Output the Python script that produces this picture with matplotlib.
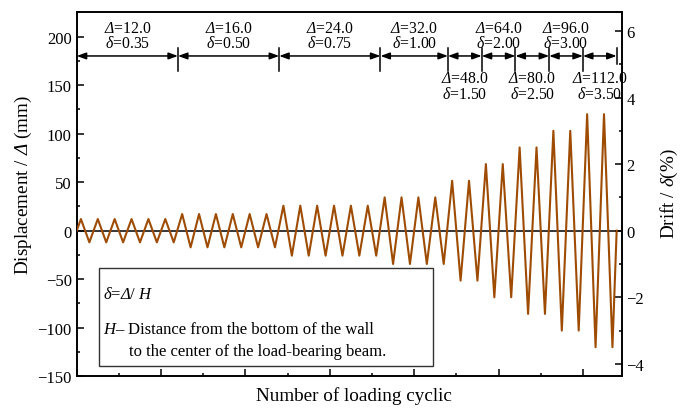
import numpy as np
import matplotlib
matplotlib.use('Agg')
import matplotlib.pyplot as plt
from matplotlib.patches import Rectangle
from matplotlib.ticker import MultipleLocator, NullFormatter

plt.rcParams['font.family'] = 'Liberation Serif'
plt.rcParams['font.size'] = 12
plt.rcParams['mathtext.fontset'] = 'custom'
plt.rcParams['mathtext.rm'] = 'Liberation Serif'
plt.rcParams['mathtext.it'] = 'Liberation Serif:italic'
plt.rcParams['mathtext.sf'] = 'Liberation Serif:italic'
plt.rcParams['mathtext.bf'] = 'Liberation Serif:bold'

# loading protocol
disp_levels = [12.0, 16.0, 24.0, 32.0, 48.0, 64.0, 80.0, 96.0, 112.0]   # mm
drift_levels = [0.35, 0.50, 0.75, 1.00, 1.50, 2.00, 2.50, 3.00, 3.50]   # %
n_cycles = [6, 6, 6, 4, 2, 2, 2, 2, 2]
label_above = [True, True, True, True, False, True, False, True, False]

mm_per_pct = 34.3

# build the zigzag history: peak at n+0.25, trough at n+0.75
xs, ys = [0.0], [0.0]
c = 0
for amp, n in zip(drift_levels, n_cycles):
    for _ in range(n):
        xs += [c + 0.25, c + 0.75]
        ys += [amp, -amp]
        c += 1
xs.append(c)
ys.append(0.0)

fig, ax = plt.subplots(figsize=(6.8, 4.1), dpi=100)
fig.subplots_adjust(left=0.1128, right=0.9143, top=0.9676, bottom=0.0798)
ax2 = ax.twinx()

ax.set_xlim(0, 32.3)
ax.set_ylim(-150, 225)
ax2.set_ylim(-150 / mm_per_pct, 225 / mm_per_pct)

ax.axhline(0, color='k', lw=1.1, zorder=1)
ax2.plot(xs, ys, color='#9E4C04', lw=1.5, zorder=3)

# ticks
ax.xaxis.set_major_locator(MultipleLocator(5))
ax.xaxis.set_minor_locator(MultipleLocator(2.5))
ax.xaxis.set_major_formatter(NullFormatter())
ax.yaxis.set_major_locator(MultipleLocator(50))
ax.yaxis.set_minor_locator(MultipleLocator(25))
ax2.yaxis.set_major_locator(MultipleLocator(2))
ax2.yaxis.set_minor_locator(MultipleLocator(1))
for a in (ax, ax2):
    a.tick_params(which='major', direction='in', length=5, width=1.1)
    a.tick_params(which='minor', direction='in', length=2.5, width=1.1)
    for s in a.spines.values():
        s.set_linewidth(1.2)
ax.tick_params(axis='x', which='both', top=False)

ax.set_ylabel(r'Displacement / $\mathsf{\Delta}$ (mm)', fontsize=13.8)
ax2.set_ylabel(r'Drift / $\delta$(%)', fontsize=13.8)
ax.set_xlabel('Number of loading cyclic', fontsize=13.8)
ax.yaxis.set_label_coords(-0.079, 0.528)
ax2.yaxis.set_label_coords(1.068, 0.5036)
ax.xaxis.set_label_coords(0.509, -0.026)

# stage annotations
bounds = np.concatenate([[0], np.cumsum(n_cycles)])
y_arrow = 180
for i, (d, p, up) in enumerate(zip(disp_levels, drift_levels, label_above)):
    x0, x1 = bounds[i], bounds[i + 1]
    ax.annotate('', xy=(x1, y_arrow), xytext=(x0, y_arrow),
                arrowprops=dict(arrowstyle='<|-|>,head_length=0.55,head_width=0.2',
                                color='k', lw=1.1, shrinkA=0, shrinkB=0,
                                mutation_scale=10))
    if i > 0:
        ax.plot([x0, x0], [165, 188], color='k', lw=1.1)
    xm = (x0 + x1) / 2
    if up:
        ya, yb = 204.5, 189.5
    else:
        ya, yb = 153.4, 136.7
    ax.text(xm, ya, r'$\mathsf{\Delta}$=%.1f' % d, ha='center', va='baseline', fontsize=11.3)
    ax.text(xm, yb, r'$\delta$=%.2f' % p, ha='center', va='baseline', fontsize=11.3)
ax.plot([bounds[-1]] * 2, [172, 188], color='k', lw=1.1)

# note box
ax.add_patch(Rectangle((0.041, 0.029), 0.612, 0.2685, transform=ax.transAxes,
                       fill=False, edgecolor='#333333', lw=1.0, zorder=5))
ax.text(0.048, 0.214, r'$\delta$=$\mathsf{\Delta}$/ $H$', transform=ax.transAxes, va='baseline')
ax.text(0.048, 0.118, r'$H$–', transform=ax.transAxes, va='baseline')
ax.text(0.0947, 0.118, 'Distance from the bottom of the wall', transform=ax.transAxes, va='baseline')
ax.text(0.0965, 0.0588, 'to the center of the load-bearing beam.', transform=ax.transAxes, va='baseline')

plt.savefig('out.png')
